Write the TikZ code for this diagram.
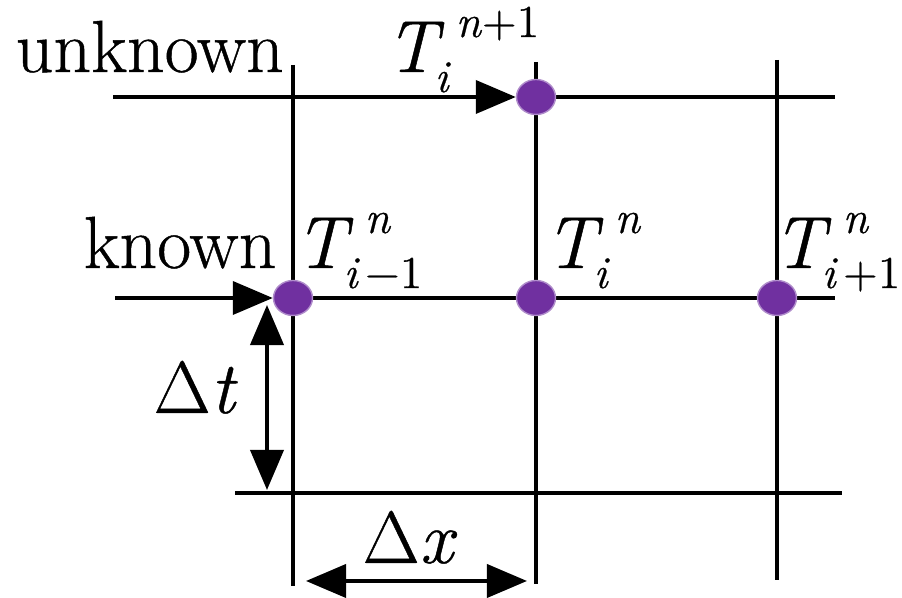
\documentclass[tikz,border=0pt]{standalone}
\usepackage{fontspec}
\setmainfont{Latin Modern Roman}[FakeBold=0.6]
\usetikzlibrary{arrows.meta,shapes.geometric,backgrounds}
\definecolor{dotpurple}{HTML}{7030A0}
\newcommand{\smallsz}{\fontsize{13}{15}\selectfont}
\newcommand{\Tlab}[2]{\makebox[0.49cm][l]{\textit{T}}\rlap{\raisebox{-0.2cm}{\smallsz #1}}\hspace{0.21cm}\raisebox{0.35cm}{\smallsz #2}}
\begin{document}
\begin{tikzpicture}[x=0.01cm,y=-0.01cm,
  gridline/.style={line width=1.1pt,black},
  dimarrow/.style={line width=1.1pt,black},
  >={Triangle[length=0.4cm,width=0.33cm]},
  gpoint/.style={ellipse,fill=dotpurple,draw=dotpurple!55!white,line width=0.4pt,minimum width=0.39cm,minimum height=0.35cm,inner sep=0pt},
  lbl/.style={font=\fontsize{21}{25}\selectfont,inner sep=0pt,anchor=base west}]
\useasboundingbox (0,0) rectangle (902,598);
% grid coordinates
\coordinate (tl) at (113,97);  \coordinate (tr) at (835,97);
\coordinate (ml) at (115,298); \coordinate (mr) at (835,298);
\coordinate (bl) at (235,493); \coordinate (br) at (842,493);
\coordinate (v1t) at (293,65); \coordinate (v1b) at (293,586);
\coordinate (v2t) at (536,62); \coordinate (v2b) at (536,584);
\coordinate (v3t) at (777,60); \coordinate (v3b) at (777,580);
\coordinate (dtT) at (267,305); \coordinate (dtB) at (267,490);
\coordinate (dxL) at (306,581); \coordinate (dxR) at (527,581);
% grid points
\node[gpoint] (pTop) at (536,97) {};
\node[gpoint] (pL) at (293,298) {};
\node[gpoint] (pM) at (536,298) {};
\node[gpoint] (pR) at (777,298) {};
\begin{pgfonlayer}{background}
\draw[gridline,->] (tl) -- (pTop.west);
\draw[gridline] (pTop) -- (tr);
\draw[gridline,->] (ml) -- (pL.west);
\draw[gridline] (pL) -- (mr);
\draw[gridline] (bl) -- (br);
\draw[gridline] (v1t) -- (v1b);
\draw[gridline] (v2t) -- (v2b);
\draw[gridline] (v3t) -- (v3b);
\draw[dimarrow,<->] (dtT) -- (dtB);
\draw[dimarrow,<->] (dxL) -- (dxR);
\end{pgfonlayer}
% labels
\node[lbl] (unk) at (15,72) {unknown};
\node[lbl] (kn) at (83,268) {known};
\node[lbl] (Ttop) at (385,72) {\Tlab{\textit{i}}{\textit{n}+1}};
\node[lbl] (Tl) at (294,268) {\Tlab{\textit{i}\kern1.5pt−1}{\textit{n}}};
\node[lbl] (Tm) at (544,268) {\Tlab{\textit{i}}{\textit{n}}};
\node[lbl] (Tr) at (772,268) {\Tlab{\textit{i}\kern1.5pt+1}{\textit{n}}};
\node[lbl] (dt) at (153,413) {Δ\textit{t}};
\node[lbl] (dx) at (362,563) {Δ\textit{x}};
\end{tikzpicture}
\end{document}
